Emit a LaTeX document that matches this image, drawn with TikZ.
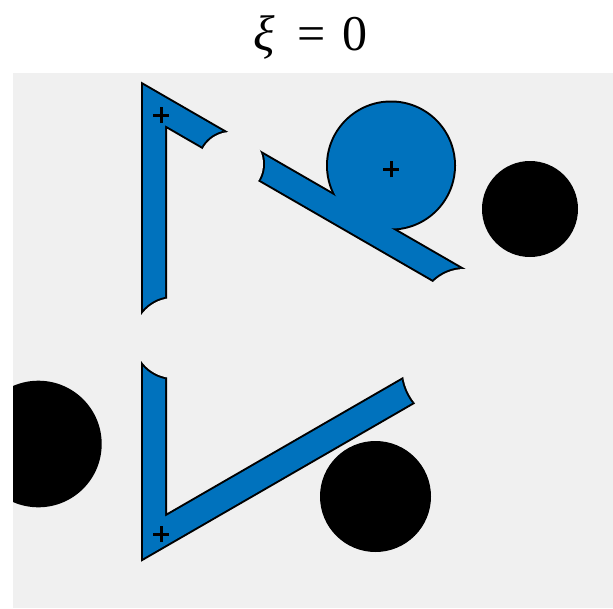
\documentclass[tikz,border=0pt]{standalone}
\usepackage{fontspec}
\setmainfont{Liberation Serif}
\definecolor{mblue}{RGB}{0,114,189}
\definecolor{axbg}{RGB}{240,240,240}
\begin{document}
\begin{tikzpicture}[x=1pt,y=-1pt,
  blob/.style={fill=mblue},
  edge/.style={draw=black,line width=4pt,line join=miter},
  cutedge/.style={draw=black,line width=4pt},
  plusmark/.style={draw=black,line width=3pt},
  obstacle/.style={fill=black},
  gapfill/.style={fill=axbg},
  titletext/.style={font=\fontsize{50}{50}\selectfont,inner sep=0pt,anchor=base},
  band/.style={insert path={(To) -- (O1) -- (O2) -- (Lo) -- (Li) -- (I2) -- (I1) -- (Ti) -- cycle}}]
\useasboundingbox (0,0) rectangle (613,608);
\fill[white] (0,0) rectangle (613,608);
\fill[axbg] (13,73) rectangle (613,608);
% band corners
\coordinate (O1) at (143,85);
\coordinate (O2) at (143,558.3);
\coordinate (I1) at (165,125.1);
\coordinate (I2) at (165,516.7);
\coordinate (To) at (489.4,285);
\coordinate (Ti) at (477.55,305.5);
\coordinate (Lo) at (472.1,368.3);
\coordinate (Li) at (459.6,346.65);
% blue disc
\coordinate (C) at (391,165.5);
% cut circles
\coordinate (G1) at (174,338);
\coordinate (G2) at (231,164);
\coordinate (G3) at (464.7,314);
\coordinate (G4) at (458.5,368);
% outline of union, then fill
\path[edge,band];
\draw[edge] (C) circle (63);
\path[blob,band];
\fill[blob] (C) circle (63);
% cut edges
\begin{scope}
  \clip[band];
  \draw[cutedge] (G1) circle (40);
  \draw[cutedge] (G2) circle (32);
  \draw[cutedge] (G3) circle (45);
  \draw[cutedge] (G4) circle (56);
\end{scope}
\fill[gapfill] (G1) circle (40);
\fill[gapfill] (G2) circle (32);
\fill[gapfill] (G3) circle (45);
\fill[gapfill] (G4) circle (56);
% black discs
\begin{scope}
  \clip (13,73) rectangle (613,608);
  \fill[obstacle] (38.4,444) circle (63.3);
  \fill[obstacle] (530,209) circle (48);
  \fill[obstacle] (375.5,496.5) circle (55.5);
\end{scope}
% plus markers
\coordinate (P1) at (161.3,115);
\coordinate (P2) at (391.3,169.3);
\coordinate (P3) at (161.3,534);
\foreach \p in {P1,P2,P3}{
  \draw[plusmark] ([xshift=-8pt]\p) -- ([xshift=8pt]\p);
  \draw[plusmark] ([yshift=-8pt]\p) -- ([yshift=8pt]\p);
}
% title
\node[titletext] (xi) at (264,50) {\textit{ξ}};
\node[titletext] (eq) at (312,50) {=};
\node[titletext] (zero) at (355,50) {0};
\end{tikzpicture}
\end{document}
